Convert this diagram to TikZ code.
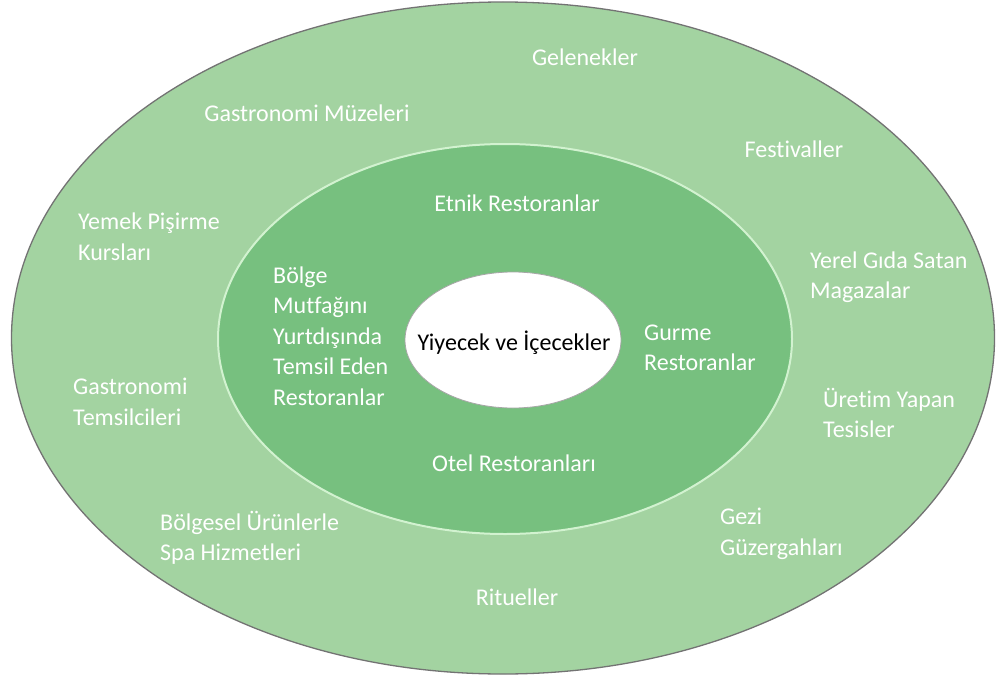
\documentclass[tikz,border=0pt]{standalone}
\usepackage{fontspec}
\setmainfont{Carlito}[Ligatures={NoCommon,NoContextual}]
\usetikzlibrary{shapes.geometric}
\definecolor{outerg}{HTML}{A3D3A1}
\definecolor{midg}{HTML}{77C07F}
\definecolor{midline}{HTML}{D2F2D0}
\begin{document}
\begin{tikzpicture}[x=1pt,y=-1pt,
  lbl/.style={text=white,inner sep=0pt,font=\fontsize{24}{30.5}\selectfont},
  lblL/.style={lbl,align=left,anchor=west},
  lblC/.style={lbl,anchor=center}]
\useasboundingbox (0,0) rectangle (1000,682);
\fill[white] (0,0) rectangle (1000,682);
\node[ellipse,draw=black!55,line width=1.3pt,fill=outerg,minimum width=983pt,minimum height=672pt,inner sep=0pt] (outer) at (503,338) {};
\node[ellipse,draw=midline,line width=2pt,fill=midg,minimum width=574pt,minimum height=390pt,inner sep=0pt] (middle) at (505,339) {};
\node[ellipse,draw=black!35,line width=0.8pt,fill=white,minimum width=216pt,minimum height=136pt,inner sep=0pt] (inner) at (513,340) {};
\node[lbl,text=black,anchor=center,font=\fontsize{24}{30}\selectfont] (yiy) at (514,343) {Yiyecek ve İçecekler};
% outer ring
\node[lblC] (gel) at (585,57) {Gelenekler};
\node[lblC] (gmuz) at (307,113) {Gastronomi Müzeleri};
\node[lblC] (fest) at (794,149) {Festivaller};
\node[lblL] (yemek) at (78,237) {Yemek Pişirme\\Kursları};
\node[lblL] (yerel) at (810,277) {Yerel Gıda Satan\\Magazalar};
\node[lblL] (gtem) at (73,402) {Gastronomi\\Temsilcileri};
\node[lblL] (uret) at (823,413) {Üretim Yapan\\Tesisler};
\node[lblL] (gezi) at (720,534) {Gezi\\Güzergahları};
\node[lblL] (bolges) at (160,538) {Bölgesel Ürünlerle\\Spa Hizmetleri};
\node[lblC] (rit) at (517,597) {Ritueller};
% middle ring
\node[lblC] (etnik) at (517,203) {Etnik Restoranlar};
\node[lblL] (bolge) at (273,336) {Bölge\\Mutfağını\\Yurtdışında\\Temsil Eden\\Restoranlar};
\node[lblL] (gurme) at (644,348) {Gurme\\Restoranlar};
\node[lblC] (otel) at (514,463) {Otel Restoranları};
\end{tikzpicture}
\end{document}
